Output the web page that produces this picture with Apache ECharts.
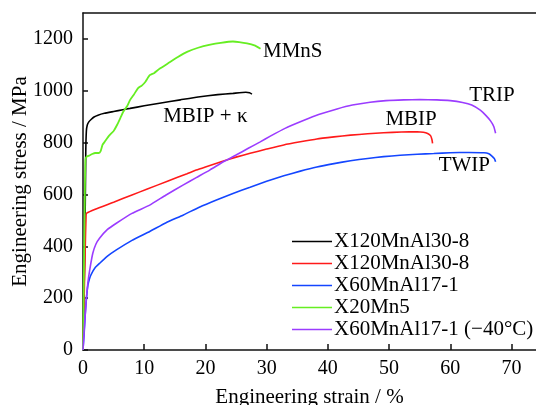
<!DOCTYPE html>
<html>
<head>
<meta charset="utf-8">
<script src="https://cdn.jsdelivr.net/npm/echarts@6/dist/echarts.min.js"></script>
<style>
html,body{margin:0;padding:0;background:#fff;}
#chart{width:536px;height:405px;}
</style>
</head>
<body>
<div id="chart"></div>
<script>
// ---- data (strain %, stress MPa) ----
var seriesNames = ['X120MnAl30-8', 'X120MnAl30-8 ', 'X60MnAl17-1', 'X20Mn5', 'X60MnAl17-1 (\u221240\u00b0C)'];
var seriesColors = ['#000000', '#ff1a1a', '#1446ff', '#66ee22', '#9b3cff'];

var blackCurve = [[0,0],[0.3,400],[0.45,760],[0.55,845],[0.7,868],[0.95,880],[1.36,890],[1.8,899],[2.45,906],[3.5,913],[5,920],[6.5,927],[7.7,932],[10,942],[12.5,952],[15.9,965],[18.8,976],[22,985],[24.5,990],[26.6,994],[27.2,992],[27.6,987]];
var redCurve = [[0,0],[0.35,380],[0.5,520],[0.6,528],[2,543],[5,570],[8,598],[10.4,620],[13.9,652],[17,680],[18.5,694],[20,706],[22.7,727],[25,744],[27.3,759],[30,775],[32.8,791],[35.5,803],[38.2,814],[41,822],[43.7,829],[46.5,834],[49.1,838],[52,841],[54.6,842],[55.6,840],[56.3,835],[56.8,826],[57.0,812],[57.1,797]];
var blueCurve = [[0,0],[0.2,70],[0.4,150],[0.55,195],[0.8,250],[1.1,278],[1.36,293],[2,318],[2.7,334],[4,362],[5.45,386],[8,423],[10.9,457],[13.5,490],[16.4,521],[19,551],[21.8,579],[24.5,604],[27.3,628],[30,651],[32.8,672],[35.5,690],[38.2,706],[41,719],[43.7,730],[46.5,739],[49.1,746],[51.8,751],[54.6,755],[57.3,758],[60,761],[63,762],[65.5,761],[66.3,757],[66.8,748],[67.2,738],[67.4,726]];
var greenCurve = [[0,0],[0.15,300],[0.3,600],[0.4,735],[0.6,746],[1.0,750],[1.5,756],[2,760],[2.6,760],[2.9,768],[3.2,792],[3.6,805],[4.2,825],[5,845],[5.6,870],[6.2,900],[6.6,920],[7.2,940],[7.7,965],[8.3,985],[9,1010],[9.6,1020],[10.2,1035],[10.9,1060],[11.6,1068],[12.5,1085],[13.9,1106],[15.5,1130],[17,1150],[18.8,1166],[20.8,1178],[22.5,1185],[24.5,1190],[25.5,1188],[26.8,1183],[28,1175],[29,1162]];
var purpleCurve = [[0,0],[0.2,80],[0.4,150],[0.55,200],[0.8,260],[1.1,309],[1.6,373],[2.1,408],[2.7,431],[4,465],[5.45,489],[8,527],[10.9,559],[13.5,597],[16.4,637],[18.5,665],[20.7,694],[23,727],[25,752],[27,778],[28.95,803],[30.6,825],[33,855],[36,885],[38.5,908],[41.5,930],[44,945],[46.9,956],[49.5,962],[52.4,965],[55,966],[57.8,965],[60,962],[62,955],[63.5,945],[64.9,925],[65.8,905],[66.6,883],[67.1,862],[67.4,836]];
var curves = [blackCurve, redCurve, blueCurve, greenCurve, purpleCurve];

var xTicks = [0,10,20,30,40,50,60,70];
var yTicks = [0,200,400,600,800,1000,1200];

// annotations: text, strain, stress (left edge, vertical middle)
var noteTexts = ['MMnS', 'MBIP + \u03ba', 'TRIP', 'MBIP', 'TWIP'];
var noteX = [29.4, 13.1, 63.1, 49.4, 58.1];
var noteY = [1150, 900, 982, 888, 710];

var FONT = '"Liberation Serif", "Times New Roman", serif';
var chart = echarts.init(document.getElementById('chart'), null, {renderer:'canvas'});

var series = curves.map(function(c, i){
  return {
    name: seriesNames[i], type:'line', data:c, xAxisIndex:0, yAxisIndex:0,
    symbol:'none', smooth:0.15, clip:true,
    lineStyle:{color:seriesColors[i], width:(i === 3 ? 1.8 : 1.6)},
    itemStyle:{color:seriesColors[i]}
  };
});

var axisLineStyle = {color:'#111', width:1.5};
var option = {
  animation:false,
  backgroundColor:'#fff',
  textStyle:{fontFamily:FONT},
  grid:{left:83, right:0, top:13, bottom:55, containLabel:false, outerBoundsMode:'none'},
  xAxis:[{
    type:'value', min:0, max:74, interval:10, position:'bottom',
    name:'Engineering strain / %', nameLocation:'middle', nameGap:37, nameMoveOverlap:false,
    nameTextStyle:{fontFamily:FONT, fontSize:21, color:'#000'},
    axisLine:{show:true, lineStyle:axisLineStyle},
    axisTick:{show:true, inside:true, length:6, lineStyle:axisLineStyle},
    axisLabel:{fontFamily:FONT, fontSize:20, color:'#000', margin:9, showMaxLabel:false,
      formatter:function(v){return xTicks.indexOf(v)>=0 ? String(v) : '';}},
    splitLine:{show:false}
  },{
    type:'value', min:0, max:74, interval:10, position:'top',
    axisLine:{show:true, onZero:false, lineStyle:axisLineStyle},
    axisTick:{show:false}, axisLabel:{show:false}, splitLine:{show:false}
  }],
  yAxis:{
    type:'value', min:0, max:1300, interval:200,
    name:'Engineering stress / MPa', nameLocation:'middle', nameGap:52, nameMoveOverlap:false,
    nameTextStyle:{fontFamily:FONT, fontSize:21, color:'#000'},
    axisLine:{show:true, lineStyle:axisLineStyle},
    axisTick:{show:true, inside:true, length:5, lineStyle:axisLineStyle},
    axisLabel:{fontFamily:FONT, fontSize:20, color:'#000', margin:10, showMaxLabel:false,
      formatter:function(v){return yTicks.indexOf(v)>=0 ? String(v) : '';}},
    splitLine:{show:false}
  },
  legend:{
    orient:'vertical', left:292, top:231, padding:0,
    icon:'rect', itemWidth:40, itemHeight:1.6, itemGap:1,
    data:seriesNames,
    formatter:function(n){return n.trim();},
    textStyle:{fontFamily:FONT, fontSize:21, color:'#000', lineHeight:21, padding:[0,0,0,-3]}
  },
  series:series
};
chart.setOption(option);

var graphics = noteTexts.map(function(t, i){
  var p = chart.convertToPixel({xAxisIndex:0, yAxisIndex:0}, [noteX[i], noteY[i]]);
  return {type:'text', x:p[0], y:p[1],
    style:{text:t, fontFamily:FONT, fontSize:21, fill:'#000', verticalAlign:'middle', align:'left'}};
});
chart.setOption({graphic:graphics});
</script>
</body>
</html>
